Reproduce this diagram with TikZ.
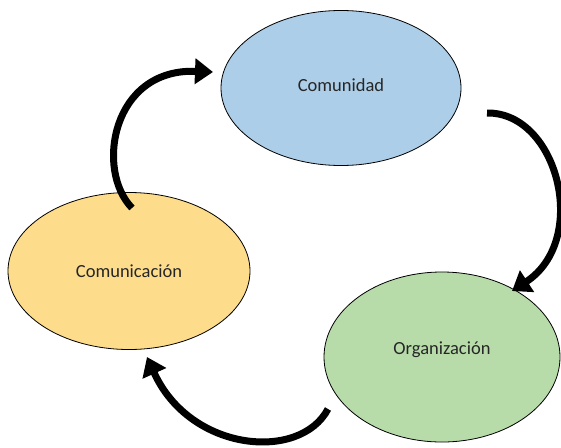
\documentclass[tikz,border=0pt]{standalone}
\usepackage{fontspec}
\setmainfont{Carlito}
\usetikzlibrary{shapes.geometric,arrows.meta}
\definecolor{cblue}{RGB}{173,206,232}
\definecolor{cyellow}{RGB}{253,221,140}
\definecolor{cgreen}{RGB}{183,220,170}
\tikzset{
  bubble/.style={ellipse, draw=black, line width=0.8pt, inner sep=0pt, font=\fontsize{18.5}{22}\selectfont, text=black!85},
  cyclearrow/.style={line width=7pt, -{Triangle[length=18pt,width=25pt]}}
}
\begin{document}
\begin{tikzpicture}[x=1pt,y=-1pt]
\useasboundingbox (0,0) rectangle (561,447);
\node[bubble, fill=cblue, minimum width=240pt, minimum height=155pt] (comunidad) at (341,88) {\raisebox{6pt}{Comunidad}};
\node[bubble, fill=cyellow, minimum width=242pt, minimum height=157pt] (comunicacion) at (129,271) {Comunicación};
\node[bubble, fill=cgreen, minimum width=236pt, minimum height=170pt] (organizacion) at (442,357) {\raisebox{18pt}{Organización}};
\coordinate (a1s) at (132,208);
\coordinate (a1e) at (213,72);
\coordinate (a2s) at (487,113);
\coordinate (a2e) at (512,291);
\coordinate (a3s) at (328,409);
\coordinate (a3e) at (147,357);
\draw[cyclearrow] (a1s) .. controls (95,170) and (112,68) .. (a1e);
\draw[cyclearrow] (a2s) .. controls (558,112) and (590,240) .. (a2e);
\draw[cyclearrow] (a3s) .. controls (300,462) and (190,452) .. (a3e);
\end{tikzpicture}
\end{document}
